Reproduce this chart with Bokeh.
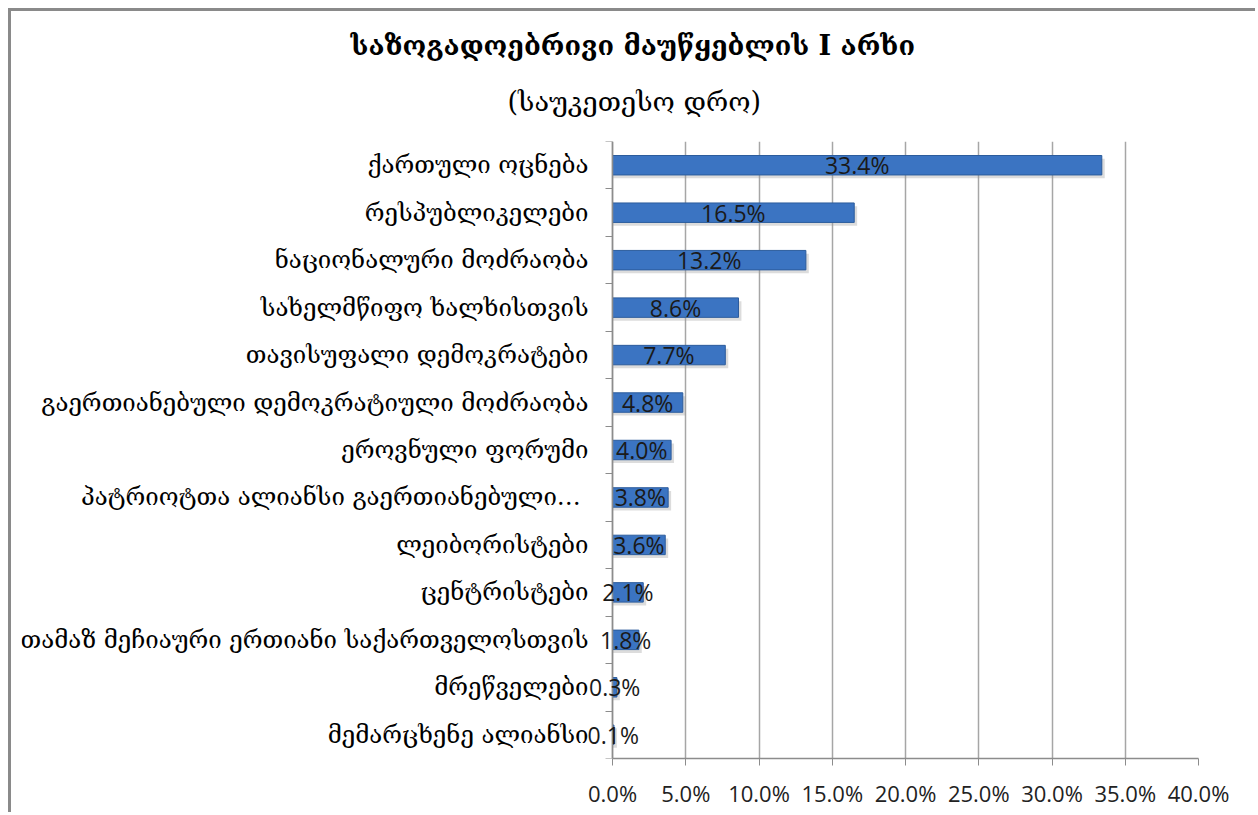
from bokeh.plotting import figure
from bokeh.models import Range1d, FixedTicker, PrintfTickFormatter, Title, ColumnDataSource, LabelSet
from bokeh.core.properties import value
from bokeh.embed import file_html
from bokeh.resources import INLINE

title_text = "საზოგადოებრივი მაუწყებლის  I არხი"
subtitle_text = "(საუკეთესო დრო)"

parties = [
    "ქართული ოცნება",
    "რესპუბლიკელები",
    "ნაციონალური მოძრაობა",
    "სახელმწიფო ხალხისთვის",
    "თავისუფალი დემოკრატები",
    "გაერთიანებული დემოკრატიული მოძრაობა",
    "ეროვნული ფორუმი",
    "პატრიოტთა ალიანსი  გაერთიანებული…",
    "ლეიბორისტები",
    "ცენტრისტები",
    "თამაზ მეჩიაური ერთიანი საქართველოსთვის",
    "მრეწველები",
    "მემარცხენე ალიანსი",
]
shares = [33.4, 16.5, 13.2, 8.6, 7.7, 4.8, 4.0, 3.8, 3.6, 2.1, 1.8, 0.3, 0.1]
x_ticks = [0, 5, 10, 15, 20, 25, 30, 35, 40]

n = len(parties)
centers = [n - i - 0.5 for i in range(n)]
bounds = list(range(n + 1))

src = ColumnDataSource(dict(
    y=centers,
    right=shares,
    mid=[s / 2 for s in shares],
    shadow_right=[s + 0.2 for s in shares],
    shadow_y=[c - 0.07 for c in centers],
    label=[f"{s:.1f}%" for s in shares],
))

GEO = "DejaVu Serif"
NUM = "Open Sans"

# frame spans the label column too, so value labels left of 0% are not clipped
FRAME_LEFT = 10
FRAME_RIGHT_MARGIN = 60
CANVAS_W = 1247
PX_PER_UNIT = 586 / 40
x_start = 40 - (CANVAS_W - FRAME_LEFT - FRAME_RIGHT_MARGIN) / PX_PER_UNIT

p = figure(width=CANVAS_W, height=804, x_range=Range1d(x_start, 40), y_range=Range1d(0, n),
           output_backend="svg", toolbar_location=None,
           min_border_left=FRAME_LEFT, min_border_right=FRAME_RIGHT_MARGIN,
           min_border_top=130, min_border_bottom=57)
p.styles = {"border-top": "3px solid #8A8A8A", "border-left": "3px solid #8A8A8A",
            "margin-left": "8px", "margin-top": "8px"}
p.outline_line_color = None
p.background_fill_color = "white"
p.border_fill_color = "white"

sub = Title(text=subtitle_text, align="left", offset=-105 + 591, standoff=50, text_font=GEO,
            text_font_size="27px", text_font_style="normal", text_color="#000000")
ttl = Title(text=title_text, align="left", offset=-262 + 591, standoff=-4, text_font=GEO,
            text_font_size="27px", text_font_style="bold", text_color="#000000")
p.add_layout(sub, "above")
p.add_layout(ttl, "above")

# shadow
p.hbar(y="shadow_y", left=0, right="shadow_right", height=0.41, source=src,
       fill_color="#9A9A9A", fill_alpha=0.35, line_color=None)
p.hbar(y="y", left=0, right="right", height=0.41, source=src,
       fill_color="#3B74C2", line_color="#2C5C9C", line_width=1)

labels = LabelSet(x="mid", y="y", text="label", source=src, text_align="center",
                  text_baseline="middle", text_font=value(NUM), text_font_size=value("23px"),
                  text_color="#1A1A1A")
p.add_layout(labels)

# x axis
p.xaxis.bounds = (0, 40)
p.xaxis.ticker = FixedTicker(ticks=x_ticks)
p.xaxis.formatter = PrintfTickFormatter(format="%.1f%%")
p.xaxis.major_label_text_font = NUM
p.xaxis.major_label_text_font_size = "22px"
p.xaxis.major_label_text_color = "#222222"
p.xaxis.axis_line_color = "#8C8C8C"
p.xaxis.axis_line_width = 1.5
p.xaxis.major_tick_line_color = "#8C8C8C"
p.xaxis.major_tick_out = 7
p.xaxis.major_tick_in = 0
p.xaxis.minor_tick_line_color = None
p.xaxis.major_label_standoff = 12

# y axis at x = 0: labels at centers, ticks at boundaries (minor)
p.yaxis.fixed_location = 0
p.yaxis.ticker = FixedTicker(ticks=centers, minor_ticks=bounds)
p.yaxis.major_label_overrides = {c: name for c, name in zip(centers, parties)}
p.yaxis.major_label_text_font = GEO
p.yaxis.major_label_text_font_size = "24px"
p.yaxis.major_label_text_color = "#000000"
p.yaxis.major_tick_line_color = None
p.yaxis.minor_tick_line_color = "#8C8C8C"
p.yaxis.minor_tick_out = 7
p.yaxis.minor_tick_in = 0
p.yaxis.axis_line_color = "#8C8C8C"
p.yaxis.axis_line_width = 1.5
p.yaxis.major_label_standoff = 17

p.xgrid.ticker = FixedTicker(ticks=x_ticks)
p.xgrid.grid_line_color = "#A6A6A6"
p.xgrid.grid_line_width = 1.5
p.ygrid.grid_line_color = None

open("out.html", "w").write(file_html(p, INLINE))
